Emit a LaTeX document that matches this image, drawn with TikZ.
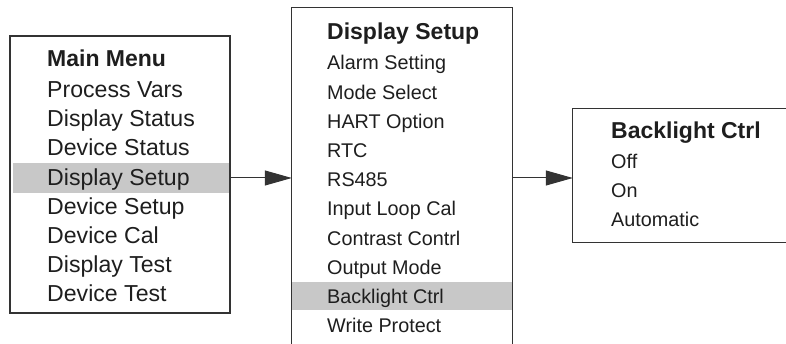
\documentclass[tikz,border=0pt]{standalone}
\usepackage{fontspec}
\setmainfont{Liberation Sans}
\usetikzlibrary{arrows.meta}
\definecolor{ln}{HTML}{333333}
\definecolor{hl}{HTML}{C8C8C8}
\definecolor{tx}{HTML}{1E1E1E}
\begin{document}
\begin{tikzpicture}[x=1pt,y=-1pt,
  box/.style={draw=ln, line width=1.3pt, rectangle, inner sep=0pt},
  openbox/.style={draw=none, rectangle, inner sep=0pt},
  edge/.style={draw=ln, line width=1.3pt},
  hlrow/.style={fill=hl, draw=none, rectangle, inner sep=0pt},
  ttl/.style={anchor=base west, inner sep=0pt, text=tx, font=\fontsize{23}{23}\selectfont\bfseries},
  itemL/.style={anchor=base west, inner sep=0pt, text=tx, font=\fontsize{23.1}{23.1}\selectfont},
  itemS/.style={anchor=base west, inner sep=0pt, text=tx, font=\fontsize{19.8}{19.8}\selectfont},
  arr/.style={draw=ln, line width=1pt, -{Triangle[length=27pt,width=15pt]}}]
\useasboundingbox (0,0) rectangle (786,344);
\clip (0,0) rectangle (786,344);
% highlights
\node[hlrow, minimum width=217pt, minimum height=30pt] (hlmain) at (121.5,178) {};
\node[hlrow, minimum width=220pt, minimum height=28pt] (hlmid) at (402,296) {};
% boxes
\node[box, minimum width=220pt, minimum height=277pt] (mainbox) at (120,174.5) {};
\node[openbox, minimum width=220pt, minimum height=362pt] (midbox) at (402,189) {};
\draw[edge] (midbox.south west) -- (midbox.north west) -- (midbox.north east) -- (midbox.south east);
\node[openbox, minimum width=267pt, minimum height=133pt] (rightbox) at (706.5,175.5) {};
\draw[edge] (rightbox.north east) -- (rightbox.north west) -- (rightbox.south west) -- (rightbox.south east);
% left texts
\node[ttl] (Lt) at (47,66.7) {Main Menu};
\foreach \t [count=\i] in {Process Vars,Display Status,Device Status,Display Setup,Device Setup,Device Cal,Display Test,Device Test}
  \node[itemL] (L\i) at (47,{97.7+29.14*(\i-1)}) {\t};
% middle texts
\node[ttl] (Mt) at (327,39.3) {Display Setup};
\foreach \t [count=\i] in {Alarm Setting,Mode Select,HART Option,RTC,RS485,Input Loop Cal,Contrast Contrl,Output Mode,Backlight Ctrl,Write Protect}
  \node[itemS] (M\i) at (327,{70+29.2*(\i-1)}) {\t};
% right texts
\node[ttl] (Rt) at (611,138.3) {Backlight Ctrl};
\foreach \t [count=\i] in {Off,On,Automatic}
  \node[itemS] (R\i) at (611,{168.3+29.2*(\i-1)}) {\t};
% arrows
\draw[arr] (hlmain.east) -- (hlmain.east -| midbox.west);
\draw[arr] (midbox.east |- hlmain.east) -- (rightbox.west |- hlmain.east);
\end{tikzpicture}
\end{document}
